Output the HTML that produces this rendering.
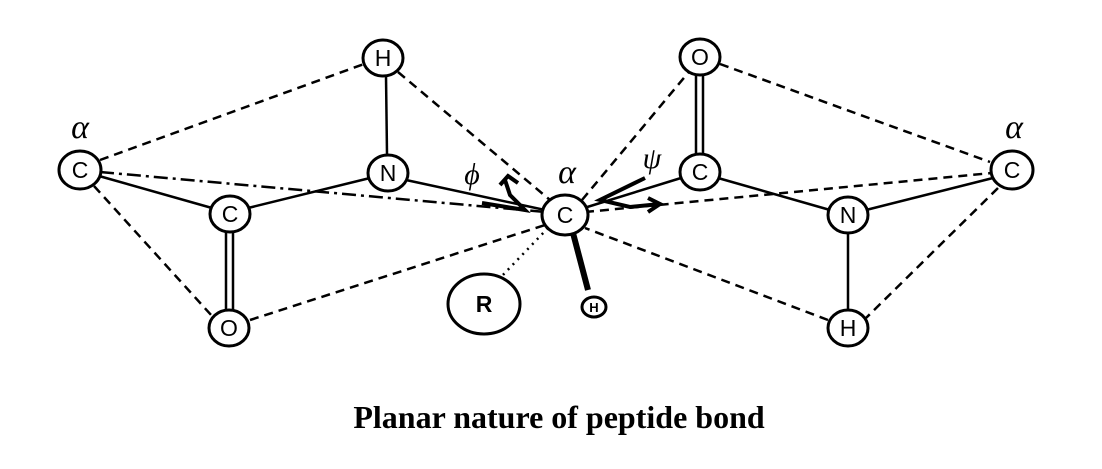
<!DOCTYPE html>
<html><head><style>body{margin:0;background:#fff}</style></head><body>
<svg width="1102" height="464" viewBox="0 0 1102 464" xmlns="http://www.w3.org/2000/svg">
<g stroke="#000" stroke-width="2.5" fill="none">
<g stroke-dasharray="9,6">
<line x1="100" y1="160" x2="364" y2="64"/>
<line x1="398" y1="72" x2="550" y2="200"/>
<line x1="94" y1="186" x2="212" y2="316"/>
<line x1="250" y1="320" x2="545" y2="225"/>
<line x1="582" y1="200" x2="688" y2="73"/>
<line x1="720" y1="64" x2="990" y2="162"/>
<line x1="998" y1="188" x2="866" y2="318"/>
<line x1="828" y1="320" x2="585" y2="228"/>
<line x1="585" y1="212" x2="992" y2="173"/>
</g>
<line x1="100" y1="172" x2="545" y2="212" stroke-dasharray="14,5,3,5"/>
<line x1="548" y1="228" x2="500" y2="278" stroke-dasharray="2,5"/>
<line x1="99" y1="176" x2="212" y2="208"/>
<line x1="248" y1="208" x2="370" y2="178"/>
<line x1="386" y1="76" x2="387" y2="154"/>
<line x1="226" y1="232" x2="226" y2="310"/>
<line x1="233" y1="232" x2="233" y2="310"/>
<line x1="406" y1="180" x2="545" y2="210"/>
<line x1="584" y1="208" x2="681" y2="178"/>
<line x1="696" y1="75" x2="696" y2="154"/>
<line x1="703" y1="75" x2="703" y2="154"/>
<line x1="718" y1="178" x2="830" y2="210"/>
<line x1="848" y1="234" x2="848" y2="310"/>
<line x1="866" y1="210" x2="993" y2="178"/>
<line x1="573" y1="233" x2="588" y2="290" stroke-width="6"/>
<path d="M482 203 L525 210 L510 195 L505 180 M500 185 L508 176 L518 183" stroke-width="4"/>
<path d="M645 178 L600 200 L630 207 L660 204 M648 198 L660 204 L648 212" stroke-width="4"/>
</g>
<g stroke="#000" stroke-width="3" fill="#fff">
<ellipse cx="80" cy="170" rx="21" ry="19"/>
<ellipse cx="383" cy="58" rx="20" ry="18"/>
<ellipse cx="388" cy="173" rx="20" ry="18"/>
<ellipse cx="230" cy="214" rx="20" ry="18"/>
<ellipse cx="229" cy="328" rx="20" ry="18"/>
<ellipse cx="565" cy="215" rx="23" ry="20"/>
<ellipse cx="484" cy="304" rx="36" ry="30"/>
<ellipse cx="594" cy="307" rx="12" ry="10"/>
<ellipse cx="700" cy="57" rx="20" ry="18"/>
<ellipse cx="700" cy="172" rx="20" ry="18"/>
<ellipse cx="1012" cy="170" rx="21" ry="19"/>
<ellipse cx="848" cy="215" rx="20" ry="18"/>
<ellipse cx="848" cy="328" rx="20" ry="18"/>
</g>
<g font-family="Liberation Sans, sans-serif" font-size="23" text-anchor="middle" fill="#000">
<text x="80" y="178">C</text><text x="383" y="66">H</text><text x="388" y="181">N</text>
<text x="230" y="222">C</text><text x="229" y="336">O</text><text x="565" y="223">C</text>
<text x="484" y="312" font-weight="bold">R</text><text x="594" y="312" font-size="13" font-weight="bold">H</text>
<text x="700" y="65">O</text><text x="700" y="180">C</text><text x="1012" y="178">C</text>
<text x="848" y="223">N</text><text x="848" y="336">H</text>
</g>
<g font-family="Liberation Serif, serif" font-size="34" font-style="italic" text-anchor="middle">
<text x="80" y="138">α</text><text x="567" y="183">α</text><text x="1014" y="138">α</text>
<text x="472" y="184" font-size="30">ϕ</text><text x="652" y="168" font-size="30">ψ</text>
</g>
<text x="559" y="428" font-family="Liberation Serif, serif" font-size="32" font-weight="bold" text-anchor="middle">Planar nature of peptide bond</text>
</svg>
</body></html>
